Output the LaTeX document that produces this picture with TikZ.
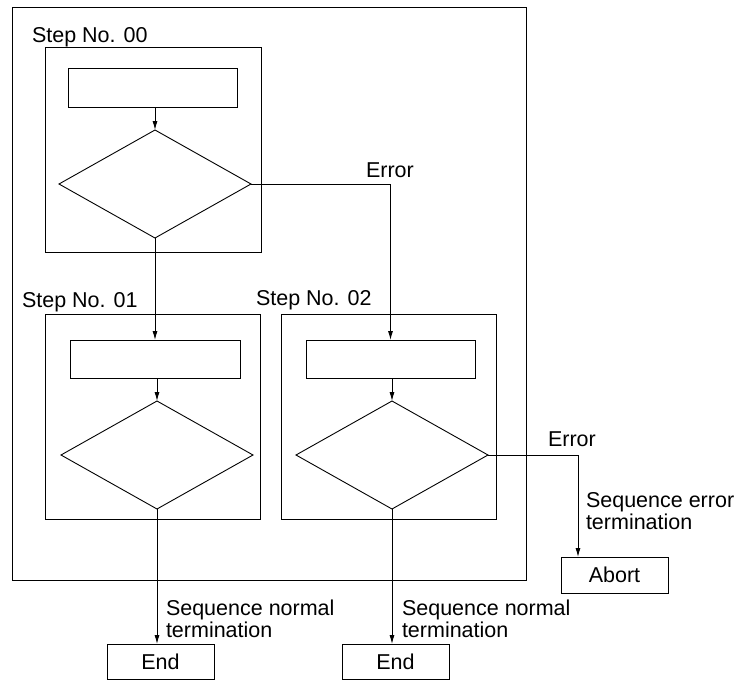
\documentclass[tikz,border=0pt]{standalone}
\usepackage{fontspec}
\setmainfont{Liberation Sans}
\usetikzlibrary{shapes.geometric,arrows.meta}
\begin{document}
\begin{tikzpicture}[x=1pt,y=-1pt,
  every node/.style={font=\fontsize{21.5}{22}\selectfont, inner sep=0pt, outer sep=0pt},
  frame/.style={draw, line width=0.9pt, rectangle},
  dia/.style={draw, line width=0.9pt, diamond, minimum width=192pt, minimum height=108pt},
  lab/.style={anchor=base west},
  lab2/.style={anchor=north west, align=left},
  arr/.style={draw, line width=0.9pt, -{Latex[length=9pt,width=5pt]}},
  ln/.style={draw, line width=0.9pt}]
\useasboundingbox (0,0) rectangle (748,680);
% outer frame and step boxes
\node[frame, minimum width=514pt, minimum height=573pt] (outer) at (269,293.5) {};
\node[frame, minimum width=216pt, minimum height=205pt] (box00) at (153,149.5) {};
\node[frame, minimum width=215pt, minimum height=205pt] (box01) at (152.5,416.5) {};
\node[frame, minimum width=215pt, minimum height=205pt] (box02) at (388.5,416.5) {};
% step 00
\node[frame, minimum width=169pt, minimum height=39pt] (rect00) at (152.5,87.5) {};
\node[dia] (dia00) at (155,184) {};
% step 01
\node[frame, minimum width=170pt, minimum height=38pt] (rect01) at (155,359) {};
\node[dia] (dia01) at (157,455) {};
% step 02
\node[frame, minimum width=169pt, minimum height=38pt] (rect02) at (390.5,359) {};
\node[dia] (dia02) at (392,455) {};
% terminals
\node[frame, minimum width=107pt, minimum height=36pt] (abort) at (614.5,575) {Abort};
\node[frame, minimum width=107pt, minimum height=35pt] (end1) at (160.5,661.5) {End};
\node[frame, minimum width=107pt, minimum height=35pt] (end2) at (395.5,661.5) {End};
% labels
\node[lab] (l00) at (32,42) {Step No. 00};
\node[lab] (l01) at (22,307) {Step No. 01};
\node[lab] (l02) at (256,305) {Step No. 02};
\node[lab] (err1) at (366,177) {Error};
\node[lab] (err2) at (548,446) {Error};
\node[lab2] (seqerr) at (586,492.5) {Sequence error\\termination};
\node[lab2] (seqn1) at (166,600) {Sequence normal\\termination};
\node[lab2] (seqn2) at (402,600) {Sequence normal\\termination};
% connectors
\coordinate (e2) at (578,455);
\draw[arr] (dia00.north |- rect00.south) -- (dia00.north);
\draw[arr] (dia00.south) -- (dia00.south |- rect01.north);
\draw[arr] (dia00.east) -| (rect02.north);
\draw[arr] (dia01.north |- rect01.south) -- (dia01.north);
\draw[arr] (dia01.south) -- (dia01.south |- end1.north);
\draw[arr] (dia02.north |- rect02.south) -- (dia02.north);
\draw[arr] (dia02.south) -- (dia02.south |- end2.north);
\draw[arr] (dia02.east) -- (e2) -- (e2 |- abort.north);
\end{tikzpicture}
\end{document}
